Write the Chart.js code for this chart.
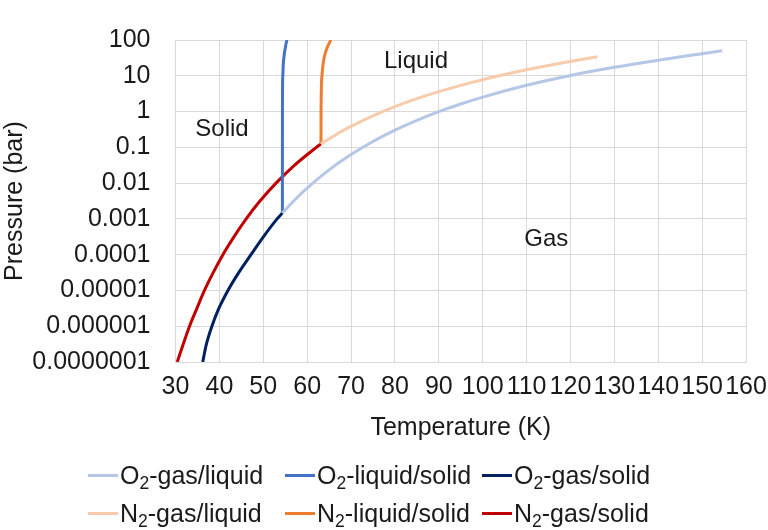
<!DOCTYPE html>
<html lang="en">
  <head>
    <meta charset="UTF-8" />
    <title>O2 / N2 phase diagram</title>
    <script src="https://cdn.jsdelivr.net/npm/chart.js"></script>
    <style>
      body {
        margin: 0;
        background: #fff;
        font-family: "Liberation Sans", Arial, sans-serif;
      }
      .wrap {
        position: relative;
        width: 768px;
        height: 530px;
      }
      .legend {
        position: absolute;
        left: 88px;
        top: 456px;
        display: grid;
        grid-template-columns: 197px 197px auto;
        grid-auto-rows: 38px;
        font-size: 25px;
        color: #1a1a1a;
      }
      .legend .item {
        display: flex;
        align-items: center;
        white-space: nowrap;
      }
      .legend .swatch {
        width: 30px;
        height: 3px;
        margin-right: 2px;
      }
      .legend sub {
        font-size: 70%;
        vertical-align: -0.3em;
        line-height: 0;
      }
    </style>
  </head>
  <body>
    <div class="wrap">
      <canvas id="chart" width="768" height="530"></canvas>
      <div class="legend" id="legend"></div>
    </div>

    <script>
      // temperatures in K, pressures in bar
      const o2GasLiquidT = [54.36, 56, 58, 60, 65, 70, 75, 80, 85, 90, 95, 100, 110, 120, 130, 140, 150, 154.58];
      const o2GasLiquidP = [0.00146, 0.0024, 0.0043, 0.00726, 0.0234, 0.0626, 0.145, 0.301, 0.567, 0.994, 1.63, 2.54, 5.43, 10.22, 17.3, 27.3, 41.5, 50.4];

      const o2LiquidSolidT = [54.36, 54.37, 54.45, 54.55, 54.67, 54.78, 54.9, 55.04, 55.2, 55.4];
      const o2LiquidSolidP = [0.00146, 1, 10, 20, 30, 40, 50, 62, 80, 100];

      const o2GasSolidT = [36.2, 37.0, 38.3, 39.8, 41.95, 44.3, 47.2, 49.9, 53.15, 54.36];
      const o2GasSolidP = [1e-7, 3e-7, 1e-6, 3e-6, 1e-5, 3e-5, 1e-4, 3e-4, 1e-3, 0.00146];

      const n2GasLiquidT = [63.15, 65, 67.5, 70, 72.5, 75, 77.35, 80, 85, 90, 95, 100, 105, 110, 115, 120, 126.19];
      const n2GasLiquidP = [0.1252, 0.174, 0.265, 0.386, 0.55, 0.761, 1.013, 1.37, 2.29, 3.61, 5.41, 7.78, 10.84, 14.67, 19.43, 25.1, 33.96];

      const n2LiquidSolidT = [63.15, 63.17, 63.37, 63.6, 63.83, 64.06, 64.3, 64.6, 65.0, 65.42];
      const n2LiquidSolidP = [0.1252, 1, 10, 20, 30, 40, 50, 63, 80, 100];

      const n2GasSolidT = [30.4, 31.7, 33.2, 34.8, 36.6, 38.5, 40.8, 43.2, 46.1, 49.1, 52.9, 56.9, 62.1, 63.15];
      const n2GasSolidP = [1e-7, 3e-7, 1e-6, 3e-6, 1e-5, 3e-5, 1e-4, 3e-4, 1e-3, 3e-3, 1e-2, 3e-2, 0.1, 0.1252];

      const yTicks = [1e-7, 1e-6, 1e-5, 1e-4, 1e-3, 1e-2, 0.1, 1, 10, 100];
      const yTickLabels = ["0.0000001", "0.000001", "0.00001", "0.0001", "0.001", "0.01", "0.1", "1", "10", "100"];

      // region names, placed at (T, P)
      const regionNames = ["Solid", "Liquid", "Gas"];
      const regionT = [40.6, 84.8, 114.5];
      const regionP = [0.31, 25, 0.00026];

      const FONT = "'Liberation Sans', Arial, sans-serif";
      const TEXT = "#1a1a1a";

      function pts(T, P) {
        return T.map((t, i) => ({ x: t, y: P[i] }));
      }

      const series = [
        { label: "O<sub>2</sub>-gas/liquid", name: "O₂-gas/liquid", data: pts(o2GasLiquidT, o2GasLiquidP), color: "#b4c7e7" },
        { label: "O<sub>2</sub>-liquid/solid", name: "O₂-liquid/solid", data: pts(o2LiquidSolidT, o2LiquidSolidP), color: "#4472c4" },
        { label: "O<sub>2</sub>-gas/solid", name: "O₂-gas/solid", data: pts(o2GasSolidT, o2GasSolidP), color: "#002060" },
        { label: "N<sub>2</sub>-gas/liquid", name: "N₂-gas/liquid", data: pts(n2GasLiquidT, n2GasLiquidP), color: "#f8cbad" },
        { label: "N<sub>2</sub>-liquid/solid", name: "N₂-liquid/solid", data: pts(n2LiquidSolidT, n2LiquidSolidP), color: "#ed7d31" },
        { label: "N<sub>2</sub>-gas/solid", name: "N₂-gas/solid", data: pts(n2GasSolidT, n2GasSolidP), color: "#c00000" },
      ];

      const regionLabels = {
        id: "regionLabels",
        afterDatasetsDraw(chart) {
          const { ctx, scales } = chart;
          ctx.save();
          ctx.font = "24px " + FONT;
          ctx.fillStyle = TEXT;
          ctx.textAlign = "center";
          ctx.textBaseline = "middle";
          regionNames.forEach((txt, i) => {
            ctx.fillText(txt, scales.x.getPixelForValue(regionT[i]), scales.y.getPixelForValue(regionP[i]));
          });
          ctx.restore();
        },
      };

      new Chart(document.getElementById("chart"), {
        type: "line",
        data: {
          datasets: series.map((s) => ({
            label: s.name,
            data: s.data,
            borderColor: s.color,
            backgroundColor: s.color,
            borderWidth: 3,
            pointRadius: 0,
            cubicInterpolationMode: "monotone",
            fill: false,
          })),
        },
        options: {
          responsive: false,
          animation: false,
          layout: { padding: { top: 39, right: 22, bottom: 83, left: 0 } },
          plugins: { legend: { display: false }, tooltip: { enabled: false } },
          scales: {
            x: {
              type: "linear",
              min: 30,
              max: 160,
              grid: { color: "#d9d9d9", drawTicks: false },
              border: { color: "#d9d9d9" },
              ticks: {
                stepSize: 10,
                autoSkip: false,
                maxRotation: 0,
                padding: 10,
                color: TEXT,
                font: { family: FONT, size: 25 },
              },
              title: {
                display: true,
                text: "Temperature (K)",
                color: TEXT,
                font: { family: FONT, size: 25 },
                padding: { top: 4, bottom: 4 },
              },
              afterFit: (s) => {
                s.height = 85;
                s.paddingLeft = 0;
                s.paddingRight = 0;
              },
            },
            y: {
              type: "logarithmic",
              min: 1e-7,
              max: 100,
              grid: { color: "#d9d9d9", drawTicks: false },
              border: { color: "#d9d9d9" },
              afterBuildTicks: (s) => {
                s.ticks = yTicks.map((v) => ({ value: v }));
              },
              ticks: {
                autoSkip: false,
                padding: 25,
                color: TEXT,
                font: { family: FONT, size: 25 },
                callback: (v, i) => yTickLabels[i],
              },
              title: {
                display: true,
                text: "Pressure (bar)",
                color: TEXT,
                font: { family: FONT, size: 25 },
                padding: 0,
              },
              afterFit: (s) => { s.width = 175.5; },
            },
          },
        },
        plugins: [regionLabels],
      });

      // legend: 3 columns, 2 rows
      const legend = document.getElementById("legend");
      series.forEach((s) => {
        const item = document.createElement("div");
        item.className = "item";
        item.innerHTML = '<span class="swatch" style="background:' + s.color + '"></span><span>' + s.label + "</span>";
        legend.appendChild(item);
      });
    </script>
  </body>
</html>
